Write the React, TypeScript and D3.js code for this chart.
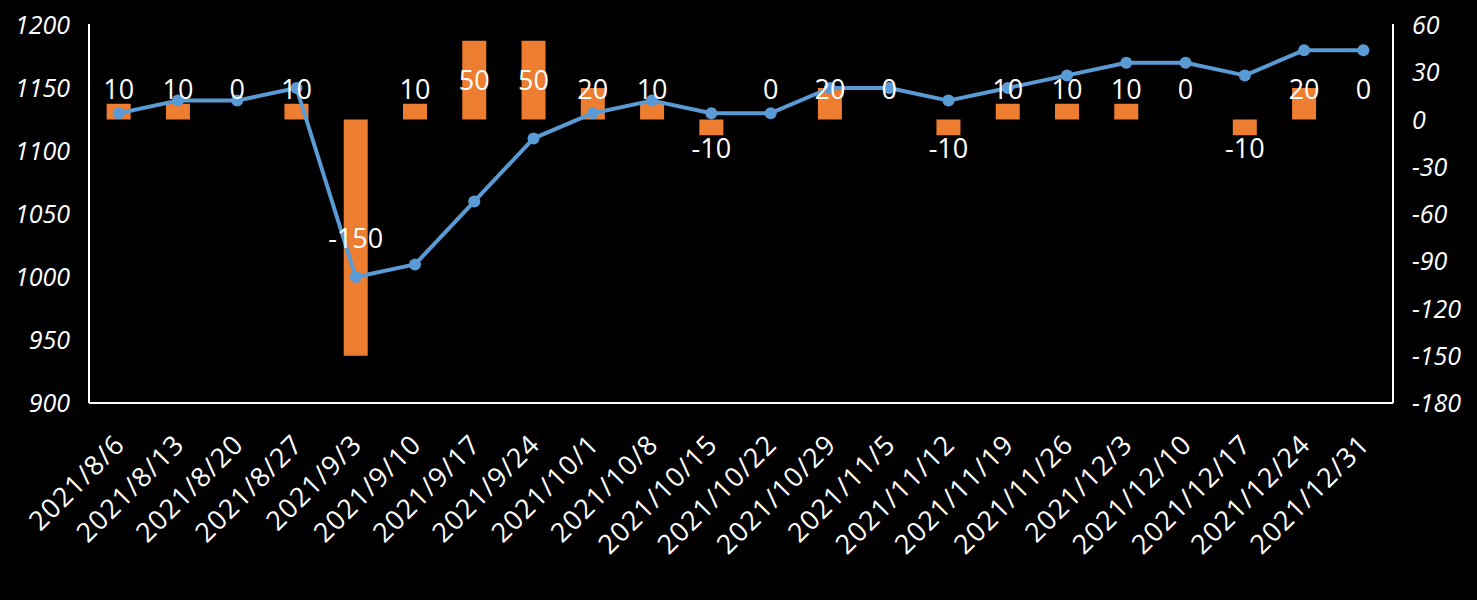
import { useEffect } from "react";
import * as d3 from "d3";

const dates = [
  "2021/8/6", "2021/8/13", "2021/8/20", "2021/8/27", "2021/9/3", "2021/9/10",
  "2021/9/17", "2021/9/24", "2021/10/1", "2021/10/8", "2021/10/15", "2021/10/22",
  "2021/10/29", "2021/11/5", "2021/11/12", "2021/11/19", "2021/11/26", "2021/12/3",
  "2021/12/10", "2021/12/17", "2021/12/24", "2021/12/31",
];
const price = [
  1130, 1140, 1140, 1150, 1000, 1010, 1060, 1110, 1130, 1140, 1130, 1130,
  1150, 1150, 1140, 1150, 1160, 1170, 1170, 1160, 1180, 1180,
];
const change = [
  10, 10, 0, 10, -150, 10, 50, 50, 20, 10, -10, 0,
  20, 0, -10, 10, 10, 10, 0, -10, 20, 0,
];
const leftTicks = [900, 950, 1000, 1050, 1100, 1150, 1200];
const rightTicks = [-180, -150, -120, -90, -60, -30, 0, 30, 60];

const W = 1477;
const H = 600;
const m = { left: 89, right: 1393, top: 25, bottom: 403 };
const font = "'Open Sans', 'Noto Sans', sans-serif";

export default function App() {
  useEffect(() => {
    document.body.style.margin = "0";
    document.body.style.background = "#000";
  }, []);

  const x = d3
    .scaleBand<string>()
    .domain(dates)
    .range([m.left, m.right])
    .paddingInner(0.595)
    .paddingOuter(0.2975);
  const yL = d3.scaleLinear().domain([900, 1200]).range([m.bottom, m.top]);
  const yR = d3.scaleLinear().domain([-180, 60]).range([m.bottom, m.top]);

  const cx = (d: string) => (x(d) ?? 0) + x.bandwidth() / 2;
  const zero = yR(0);

  const line = d3
    .line<number>()
    .x((_, i) => cx(dates[i]))
    .y((d) => yL(d));

  return (
    <svg width={W} height={H} style={{ display: "block" }}>
      <rect width={W} height={H} fill="#000" />

      {/* bars on the right axis */}
      {change.map((v, i) => (
        <rect
          key={"b" + i}
          x={x(dates[i])}
          y={Math.min(yR(v), zero)}
          width={x.bandwidth()}
          height={Math.abs(yR(v) - zero)}
          fill="#ED7D31"
        />
      ))}

      {/* price line on the left axis */}
      <path d={line(price) ?? ""} fill="none" stroke="#5B9BD5" strokeWidth={4} strokeLinejoin="round" />
      {price.map((v, i) => (
        <circle key={"c" + i} cx={cx(dates[i])} cy={yL(v)} r={6} fill="#5B9BD5" />
      ))}

      {/* bar labels */}
      {change.map((v, i) => {
        const mid = (yR(v) + zero) / 2;
        const cy = v >= 0 ? Math.min(mid, zero - 31) : Math.max(mid, zero + 28);
        return (
          <text
            key={"l" + i}
            x={cx(dates[i])}
            y={cy + 10}
            fill="#fff"
            fontSize={27}
            fontFamily={font}
            textAnchor="middle"
          >
            {v}
          </text>
        );
      })}

      {/* axes */}
      <g stroke="#fff" strokeWidth={2} fill="none">
        <line x1={m.left} y1={m.top - 1} x2={m.left} y2={m.bottom} />
        <line x1={m.right} y1={m.top - 1} x2={m.right} y2={m.bottom} />
        <line x1={m.left} y1={m.bottom} x2={m.right} y2={m.bottom} />
      </g>

      {leftTicks.map((t) => (
        <text
          key={"lt" + t}
          x={70}
          y={yL(t) + 9}
          fill="#fff"
          fontSize={25}
          fontStyle="italic"
          fontFamily={font}
          textAnchor="end"
        >
          {t}
        </text>
      ))}
      {rightTicks.map((t) => (
        <text
          key={"rt" + t}
          x={1412}
          y={yR(t) + 9}
          fill="#fff"
          fontSize={25}
          fontStyle="italic"
          fontFamily={font}
          textAnchor="start"
        >
          {t}
        </text>
      ))}

      {dates.map((d) => (
        <text
          key={"x" + d}
          transform={`translate(${cx(d) + 8},${m.bottom + 43}) rotate(-45)`}
          fill="#fff"
          fontSize={27}
          letterSpacing={1.2}
          fontFamily={font}
          textAnchor="end"
        >
          {d}
        </text>
      ))}
    </svg>
  );
}
